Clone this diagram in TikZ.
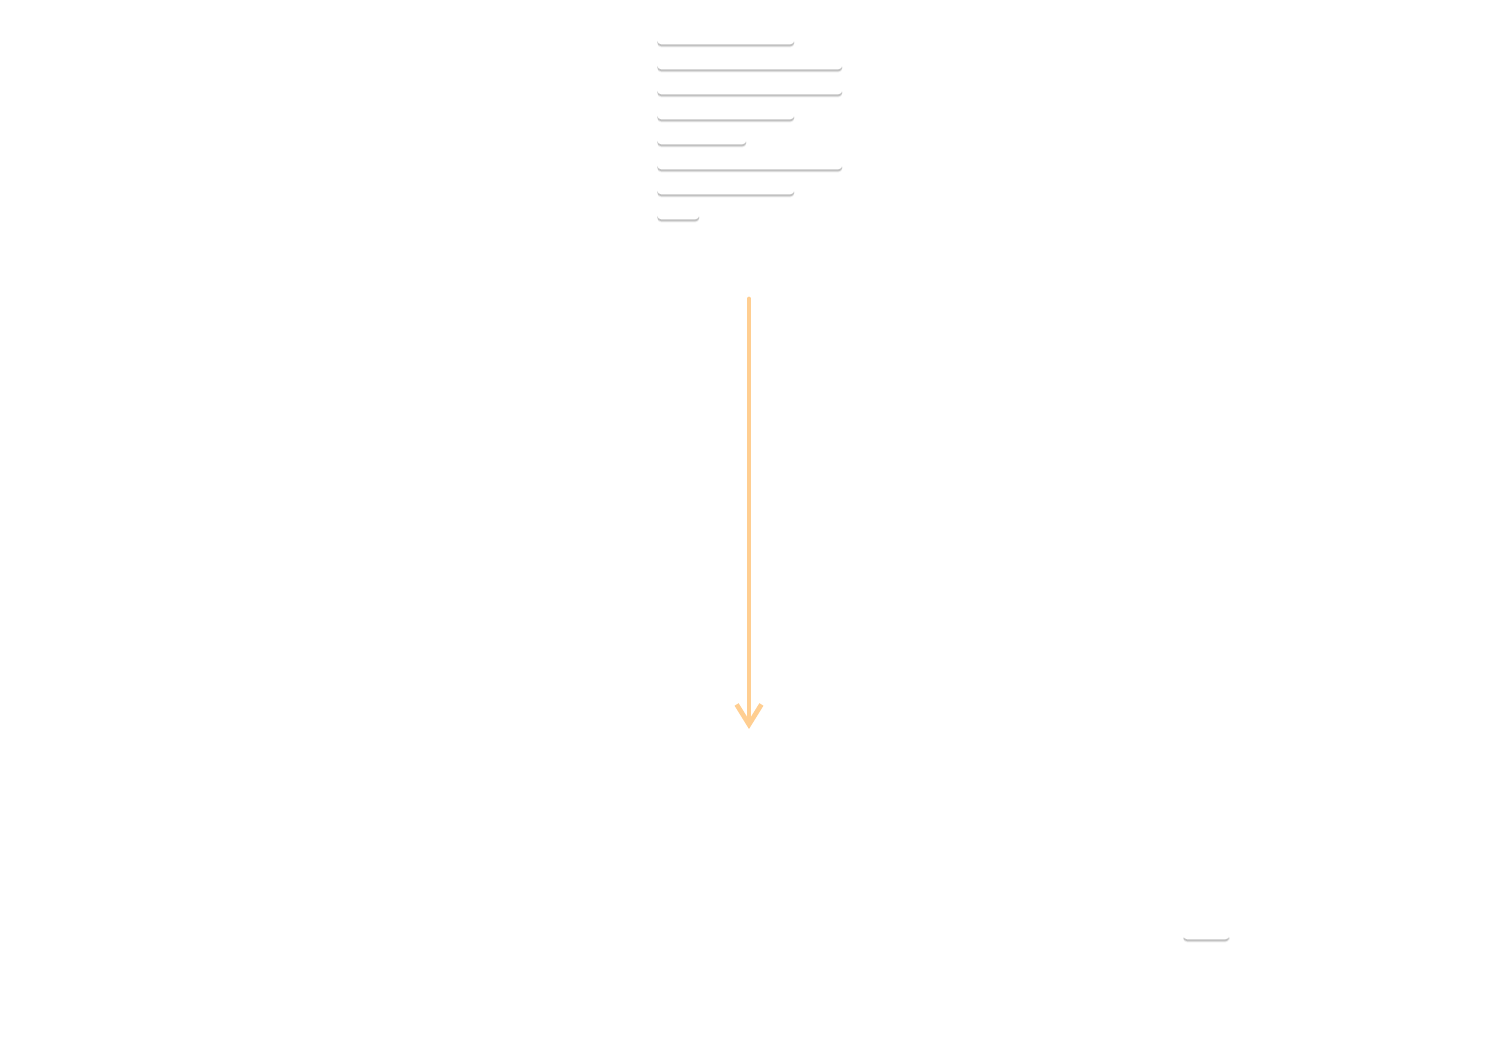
\documentclass[tikz,border=0pt]{standalone}
\usetikzlibrary{shadows,arrows.meta}
\definecolor{flowtone}{RGB}{255,206,145}
\begin{document}
\begin{tikzpicture}[x=0.025cm,y=-0.025cm,line join=round,line cap=round]
	\tikzset{textbar/.style={fill=white,inner sep=0pt,minimum height=0.2cm,rounded corners=2.8pt,anchor=north west,
			drop shadow={shadow xshift=0pt,shadow yshift=-2.2pt,opacity=0.08,fill=black},
			drop shadow={shadow xshift=0pt,shadow yshift=-1.4pt,opacity=0.18,fill=black}},
		flow/.style={draw=flowtone,line width=3.4pt,-{Straight Barb[length=0.5cm,width=0.62cm]}}}
	\useasboundingbox (0,0) rectangle (1501,1038);
	% placeholder lines of text
	\foreach \n/\y/\w in {1/36/137,2/61/185,3/86/185,4/111/137,5/136/89,6/161/185,7/186/137,8/211/42}
	\node[textbar,minimum width={\w*0.025cm}] (line\n) at (657,\y) {};
	\node[textbar,minimum width={46*0.025cm},minimum height=0.15cm] (note) at (1183,933) {};
	% downward flow
	\coordinate (flowtop) at (749,299);
	\coordinate (flowend) at (749,729);
	\draw[flow] (flowtop) -- (flowend);
\end{tikzpicture}
\end{document}
